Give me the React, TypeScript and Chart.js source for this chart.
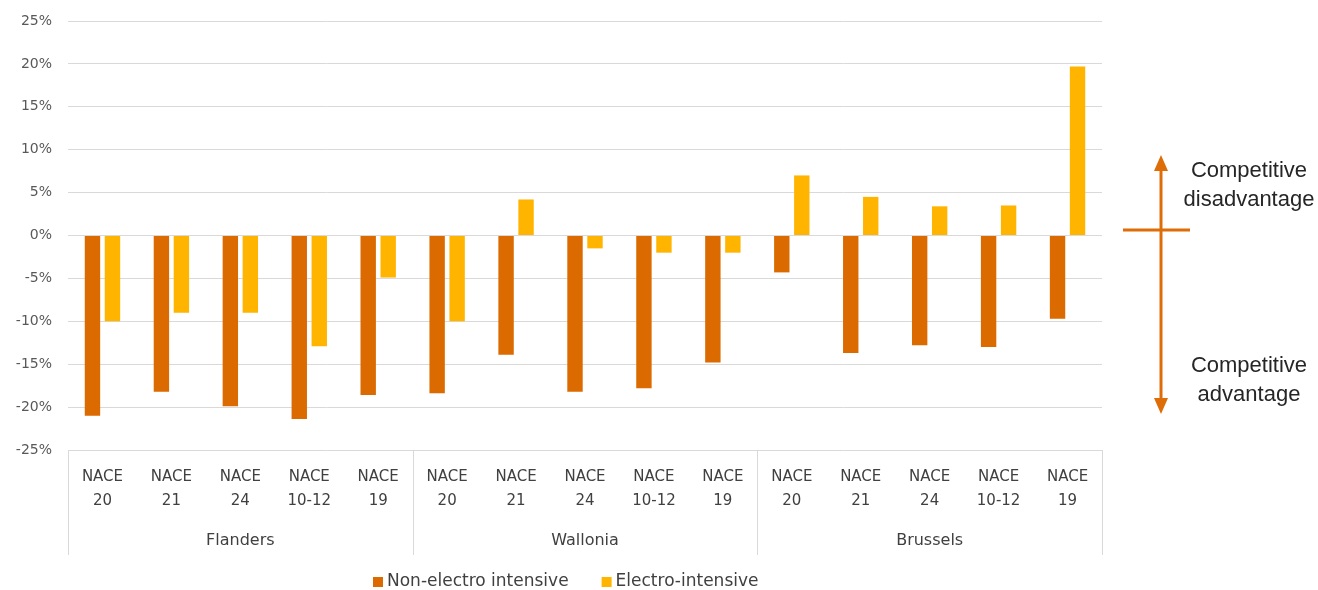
import React, { useEffect, useRef } from "react";
import { Chart, registerables } from "chart.js";

Chart.register(...registerables);

const regions = ["Flanders", "Wallonia", "Brussels"];
const sectors: string[][] = [
  ["NACE", "20"],
  ["NACE", "21"],
  ["NACE", "24"],
  ["NACE", "10-12"],
  ["NACE", "19"],
];
const categoryLabels = regions.flatMap(() => sectors);

const nonElectro = [
  -21.0, -18.2, -19.9, -21.4, -18.6,
  -18.4, -13.9, -18.2, -17.8, -14.8,
  -4.3, -13.7, -12.8, -13.0, -9.7,
];
const electro = [
  -10.0, -9.0, -9.0, -12.9, -4.9,
  -10.0, 4.2, -1.5, -2.0, -2.0,
  7.0, 4.5, 3.4, 3.5, 19.7,
];

const seriesNames = ["Non-electro intensive", "Electro-intensive"];
const seriesColors = ["#DB6A00", "#FFB400"];
const arrowColor = "#DE6C07";
const upperNote = ["Competitive", "disadvantage"];
const lowerNote = ["Competitive", "advantage"];

const FONT = "'DejaVu Sans', sans-serif";
const NOTE_FONT = "'Liberation Sans', Arial, sans-serif";

const decorPlugin = {
  id: "decor",
  afterDraw(chart: any) {
    const ctx = chart.ctx;
    const x = chart.scales.x;
    const area = chart.chartArea;
    const per = sectors.length;
    ctx.save();
    // group separators and labels
    ctx.strokeStyle = "#D9D9D9";
    ctx.lineWidth = 1;
    for (let g = 0; g <= regions.length; g++) {
      const px = Math.round(x.getPixelForValue(g * per - 0.5)) + 0.5;
      ctx.beginPath();
      ctx.moveTo(px, area.bottom);
      ctx.lineTo(px, area.bottom + 105);
      ctx.stroke();
    }
    ctx.fillStyle = "#404040";
    ctx.font = `16px ${FONT}`;
    ctx.textAlign = "center";
    ctx.textBaseline = "middle";
    regions.forEach((r, g) => {
      const a = x.getPixelForValue(g * per - 0.5);
      const b = x.getPixelForValue(g * per + per - 0.5);
      ctx.fillText(r, (a + b) / 2, area.bottom + 91);
    });
    // legend
    ctx.font = `17px ${FONT}`;
    ctx.textAlign = "left";
    let lx = area.left + 305;
    const ly = area.bottom + 132;
    seriesNames.forEach((name, i) => {
      ctx.fillStyle = seriesColors[i];
      ctx.fillRect(lx, ly - 5, 10, 10);
      ctx.fillStyle = "#404040";
      ctx.fillText(name, lx + 14, ly);
      lx += 14 + ctx.measureText(name).width + 33;
    });
    // arrow annotation
    const ax = area.right + 59;
    ctx.strokeStyle = arrowColor;
    ctx.fillStyle = arrowColor;
    ctx.lineWidth = 3;
    ctx.beginPath();
    ctx.moveTo(ax, 165);
    ctx.lineTo(ax, 404);
    ctx.stroke();
    ctx.beginPath();
    ctx.moveTo(ax, 155);
    ctx.lineTo(ax - 7, 171);
    ctx.lineTo(ax + 7, 171);
    ctx.closePath();
    ctx.fill();
    ctx.beginPath();
    ctx.moveTo(ax, 414);
    ctx.lineTo(ax - 7, 398);
    ctx.lineTo(ax + 7, 398);
    ctx.closePath();
    ctx.fill();
    ctx.beginPath();
    ctx.moveTo(ax - 38, 230);
    ctx.lineTo(ax + 29, 230);
    ctx.stroke();
    // notes
    ctx.fillStyle = "#262626";
    ctx.font = `22px ${NOTE_FONT}`;
    ctx.textAlign = "center";
    const tx = area.right + 147;
    ctx.fillText(upperNote[0], tx, 171);
    ctx.fillText(upperNote[1], tx, 200);
    ctx.fillText(lowerNote[0], tx, 366);
    ctx.fillText(lowerNote[1], tx, 395);
    ctx.restore();
  },
};

export default function App() {
  const ref = useRef<HTMLCanvasElement | null>(null);
  useEffect(() => {
    if (!ref.current) return;
    const chart = new Chart(ref.current, {
      type: "bar",
      data: {
        labels: categoryLabels,
        datasets: seriesNames.map((name, i) => ({
          label: name,
          data: i === 0 ? nonElectro : electro,
          backgroundColor: seriesColors[i],
          categoryPercentage: 0.58,
          barPercentage: 0.77,
        })),
      },
      options: {
        animation: false,
        responsive: false,
        devicePixelRatio: 1,
        layout: { padding: { top: 21, right: 216, bottom: 0, left: 0 } },
        plugins: {
          legend: { display: false },
          tooltip: { enabled: false },
        },
        scales: {
          x: {
            grid: { display: false, drawTicks: false },
            border: { display: false },
            ticks: {
              color: "#404040",
              font: { family: FONT, size: 15, lineHeight: 1.6 },
              padding: 15,
              maxRotation: 0,
              autoSkip: false,
            },
            afterFit: (s: any) => {
              s.height = 140;
              s.paddingTop = 0;
            },
          },
          y: {
            min: -25,
            max: 25,
            grid: { color: "#D9D9D9", drawTicks: false },
            border: { display: false },
            ticks: {
              stepSize: 5,
              color: "#595959",
              font: { family: FONT, size: 14 },
              padding: 16,
              callback: (v: any) => `${v}%`,
            },
            afterFit: (s: any) => {
              s.width = 68;
              s.paddingTop = 0;
              s.paddingBottom = 0;
            },
          },
        },
      },
      plugins: [decorPlugin],
    });
    return () => chart.destroy();
  }, []);
  return (
    <div style={{ position: "fixed", left: 0, top: 0, width: 1318, height: 590, background: "#fff" }}>
      <canvas ref={ref} width={1318} height={590} />
    </div>
  );
}
